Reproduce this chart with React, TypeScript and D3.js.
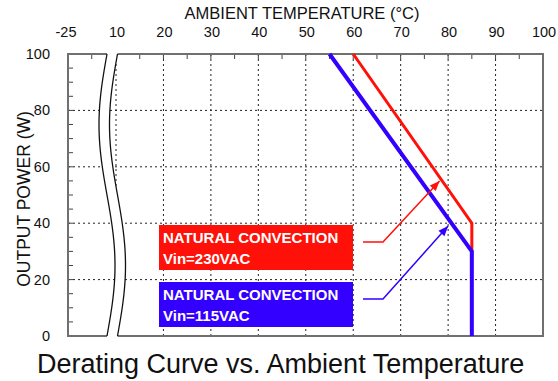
import React from 'react';
import * as d3 from 'd3';

// values
const topTicks = [10, 20, 30, 40, 50, 60, 70, 80, 90, 100];
const leftPieceTicks = [-25];
const powerTicks = [0, 20, 40, 60, 80, 100];

const redTemp = [60, 85, 85];
const redPower = [100, 40, 30];
const blueTemp = [55, 85, 85];
const bluePower = [100, 30, 0];

const legendLabels = ['NATURAL CONVECTION', 'Vin=230VAC', 'NATURAL CONVECTION', 'Vin=115VAC'];
// arrow tips, in chart units [temp, power]
const redTip = [78.2, 55];
const blueTip = [80, 39];

const W = 558;
const H = 381;
const FONT = '"Liberation Sans", Arial, sans-serif';
const RED = '#ff1008';
const BLUE = '#3300ff';

const top = 54;
const bottom = 336;
const left = 68;
const right = 543;

const x = d3.scaleLinear().domain([10, 100]).range([116, right]);
const pxPerDeg = (x(100) - x(10)) / 90;
const xLeft = d3.scaleLinear().domain([-25, -15]).range([left, left + 10 * pxPerDeg]);
const y = d3.scaleLinear().domain([0, 100]).range([bottom, top]);

// wavy axis break
const gap = 10.5;
const brk = (yy: number) => 107 - 8 * Math.sin((2 * Math.PI * (yy - top)) / (bottom - top));
const brkYs = d3.range(top, bottom + 0.01, 2);
const leftCurve = brkYs.map((yy) => [brk(yy), yy] as [number, number]);
const rightCurve = brkYs.map((yy) => [brk(yy) + gap, yy] as [number, number]);

const line = d3.line<[number, number]>();

const leftClip =
  line([[left, top], ...leftCurve, [left, bottom]] as [number, number][]) + 'Z';
const rightClip =
  line([...rightCurve, [right, bottom], [right, top]] as [number, number][]) + 'Z';

function series(t: number[], p: number[]) {
  return line(t.map((d, i) => [x(d), y(p[i])] as [number, number]));
}

function arrowHead(from: [number, number], to: [number, number], color: string) {
  const ang = Math.atan2(to[1] - from[1], to[0] - from[0]);
  const len = 10;
  const half = 4;
  const bx = to[0] - len * Math.cos(ang);
  const by = to[1] - len * Math.sin(ang);
  const px = -Math.sin(ang) * half;
  const py = Math.cos(ang) * half;
  return (
    <path
      d={`M${to[0]},${to[1]}L${bx + px},${by + py}L${bx - px},${by - py}Z`}
      fill={color}
    />
  );
}

export default function App() {
  const minorTop = d3.range(10, 100, 5);
  const minorPower = d3.range(5, 100, 5);
  const gridPower = powerTicks.filter((d) => d > 0 && d < 100);
  const gridTemp = topTicks.filter((d) => d < 100);

  const boxX = 159;
  const boxW = 194;
  const boxH = 45;
  const redBoxY = 225;
  const blueBoxY = 282;

  const redElbow: [number, number] = [383, 242];
  const redStart: [number, number] = [363, 242];
  const blueElbow: [number, number] = [383, 299];
  const blueStart: [number, number] = [363, 299];
  const redTipPx: [number, number] = [x(redTip[0]), y(redTip[1])];
  const blueTipPx: [number, number] = [x(blueTip[0]), y(blueTip[1])];

  return (
    <svg
      width={W}
      height={H}
      style={{ position: 'absolute', left: 0, top: 0, background: '#fff' }}
      fontFamily={FONT}
    >
      <defs>
        <clipPath id="clipL">
          <path d={leftClip} />
        </clipPath>
        <clipPath id="clipR">
          <path d={rightClip} />
        </clipPath>
      </defs>

      {/* titles */}
      <text x={302} y={19} fontSize={16.5} textAnchor="middle" fill="#111">
        AMBIENT TEMPERATURE (°C)
      </text>
      <text
        transform={`translate(30,199) rotate(-90)`}
        fontSize={17.5}
        textAnchor="middle"
        fill="#111"
      >
        OUTPUT POWER (W)
      </text>
      <text x={37} y={373} fontSize={27} fill="#111">
        Derating Curve vs. Ambient Temperature
      </text>

      {/* top tick labels */}
      {leftPieceTicks.map((d) => (
        <text key={'l' + d} x={xLeft(d) - 2} y={37} fontSize={14.5} textAnchor="middle" fill="#111">
          {d}
        </text>
      ))}
      {topTicks.map((d) => (
        <text key={'t' + d} x={x(d) + 1} y={37} fontSize={14.5} textAnchor="middle" fill="#111">
          {d}
        </text>
      ))}

      {/* left tick labels */}
      {powerTicks.map((d) => (
        <text
          key={'p' + d}
          x={50}
          y={y(d) + 5}
          fontSize={14.5}
          textAnchor="end"
          fill="#111"
        >
          {d}
        </text>
      ))}

      {/* grid, left piece */}
      <g clipPath="url(#clipL)" stroke="#222" strokeWidth={1} strokeDasharray="2,3">
        {gridPower.map((d) => (
          <line key={d} x1={left} x2={130} y1={y(d)} y2={y(d)} />
        ))}
      </g>
      {/* grid, right piece */}
      <g clipPath="url(#clipR)" stroke="#222" strokeWidth={1} strokeDasharray="2,3">
        {gridPower.map((d) => (
          <line key={'h' + d} x1={100} x2={right} y1={y(d)} y2={y(d)} />
        ))}
        {gridTemp.map((d) => (
          <line key={'v' + d} x1={x(d)} x2={x(d)} y1={top} y2={bottom} />
        ))}
      </g>

      {/* minor ticks */}
      <g stroke="#444" strokeWidth={1}>
        <g clipPath="url(#clipR)">
          {minorTop.map((d) => (
            <line key={d} x1={x(d)} x2={x(d)} y1={top} y2={top + 5} />
          ))}
        </g>
        <line x1={xLeft(-20)} x2={xLeft(-20)} y1={top} y2={top + 5} />
        {minorPower.map((d) => (
          <line key={'m' + d} x1={left} x2={left + 5} y1={y(d)} y2={y(d)} />
        ))}
      </g>

      {/* frame */}
      <g stroke="#707070" strokeWidth={2} fill="none">
        <path d={`M${brk(top)},${top}L${left},${top}L${left},${bottom}L${brk(bottom)},${bottom}`} />
        <path
          d={`M${brk(top) + gap},${top}L${right},${top}L${right},${bottom}L${brk(bottom) + gap},${bottom}`}
        />
      </g>
      <g stroke="#111" strokeWidth={1.3} fill="none">
        <path d={line(leftCurve) || ''} />
        <path d={line(rightCurve) || ''} />
      </g>

      {/* curves */}
      <path d={series(redTemp, redPower) || ''} fill="none" stroke={RED} strokeWidth={3} />
      <path d={series(blueTemp, bluePower) || ''} fill="none" stroke={BLUE} strokeWidth={4} />

      {/* legend boxes */}
      <rect x={boxX} y={redBoxY} width={boxW} height={boxH} fill={RED} />
      <text x={163} y={243} fontSize={15} fontWeight="bold" fill="#fff">
        {legendLabels[0]}
      </text>
      <text x={163} y={264} fontSize={15} fontWeight="bold" fill="#fff">
        {legendLabels[1]}
      </text>
      <rect x={boxX} y={blueBoxY} width={boxW} height={boxH} fill={BLUE} />
      <text x={163} y={300} fontSize={15} fontWeight="bold" fill="#fff">
        {legendLabels[2]}
      </text>
      <text x={163} y={321} fontSize={15} fontWeight="bold" fill="#fff">
        {legendLabels[3]}
      </text>

      {/* callouts */}
      <path
        d={line([redStart, redElbow, redTipPx]) || ''}
        fill="none"
        stroke={RED}
        strokeWidth={1.5}
      />
      {arrowHead(redElbow, redTipPx, RED)}
      <path
        d={line([blueStart, blueElbow, blueTipPx]) || ''}
        fill="none"
        stroke={BLUE}
        strokeWidth={1.5}
      />
      {arrowHead(blueElbow, blueTipPx, BLUE)}
    </svg>
  );
}
